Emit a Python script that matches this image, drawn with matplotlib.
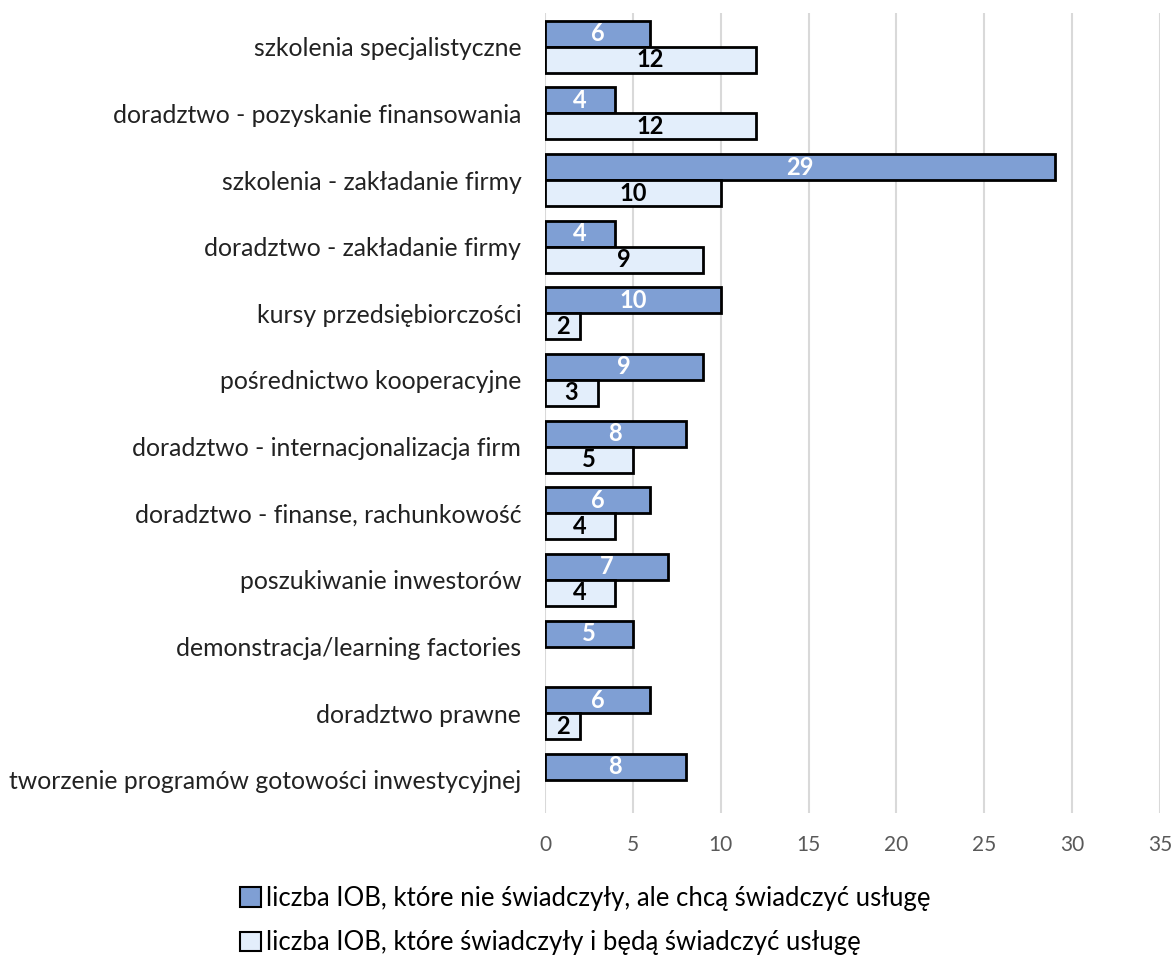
import numpy as np
import matplotlib.pyplot as plt
from matplotlib.patches import Patch

categories = [
    'szkolenia specjalistyczne',
    'doradztwo - pozyskanie finansowania',
    'szkolenia - zakładanie firmy',
    'doradztwo - zakładanie firmy',
    'kursy przedsiębiorczości',
    'pośrednictwo kooperacyjne',
    'doradztwo - internacjonalizacja firm',
    'doradztwo - finanse, rachunkowość',
    'poszukiwanie inwestorów',
    'demonstracja/learning factories',
    'doradztwo prawne',
    'tworzenie programów gotowości inwestycyjnej',
]
want_to = [6, 4, 29, 4, 10, 9, 8, 6, 7, 5, 6, 8]
did_and_will = [12, 12, 10, 9, 2, 3, 5, 4, 4, 0, 2, 0]
series_names = [
    'liczba IOB, które nie świadczyły, ale chcą świadczyć usługę',
    'liczba IOB, które świadczyły i będą świadczyć usługę',
]

DARK = '#7F9FD4'
LIGHT = '#E3EEFB'

plt.rcParams['font.family'] = ['Lato', 'DejaVu Sans']

fig = plt.figure(figsize=(11.71, 9.6), dpi=100)
ax = fig.add_axes([0.4654, 0.153, 0.5252, 0.833])

y = np.arange(len(categories))
h = 0.39
bars1 = ax.barh(y - h / 2, want_to, height=h, color=DARK, edgecolor='black', linewidth=2, zorder=3)
light_vals = [v if v > 0 else np.nan for v in did_and_will]
bars2 = ax.barh(y + h / 2, light_vals, height=h, color=LIGHT, edgecolor='black', linewidth=2, zorder=3)

for b, v in zip(bars1, want_to):
    ax.text(v / 2, b.get_y() + b.get_height() / 2, str(v), ha='center', va='center',
            color='white', fontsize=17, fontweight='bold', zorder=4)
for b, v in zip(bars2, did_and_will):
    if v > 0:
        ax.text(v / 2, b.get_y() + b.get_height() / 2, str(v), ha='center', va='center',
                color='black', fontsize=17, fontweight='bold', zorder=4)

ax.set_xlim(0, 35)
ax.set_xticks(range(0, 36, 5))
ax.set_ylim(len(categories) - 0.5, -0.5)
ax.set_yticks(y)
ax.set_yticklabels(categories, fontsize=17.8, color='#222222')
ax.tick_params(axis='x', labelsize=15, colors='#595959', length=0, pad=16)
ax.tick_params(axis='y', length=0, pad=17)
ax.grid(axis='x', color='#D9D9D9', linewidth=1.5, zorder=0)
for s in ax.spines.values():
    s.set_visible(False)

handles = [Patch(facecolor=DARK, edgecolor='black', linewidth=1.5),
           Patch(facecolor=LIGHT, edgecolor='black', linewidth=1.5)]
fig.legend(handles, series_names, loc='center', bbox_to_anchor=(0.5, 0.041), ncol=1,
           frameon=False, fontsize=18.5, handlelength=0.8, handleheight=0.8,
           handletextpad=0.2, labelspacing=0.75)

fig.savefig('out.png', dpi=100)
